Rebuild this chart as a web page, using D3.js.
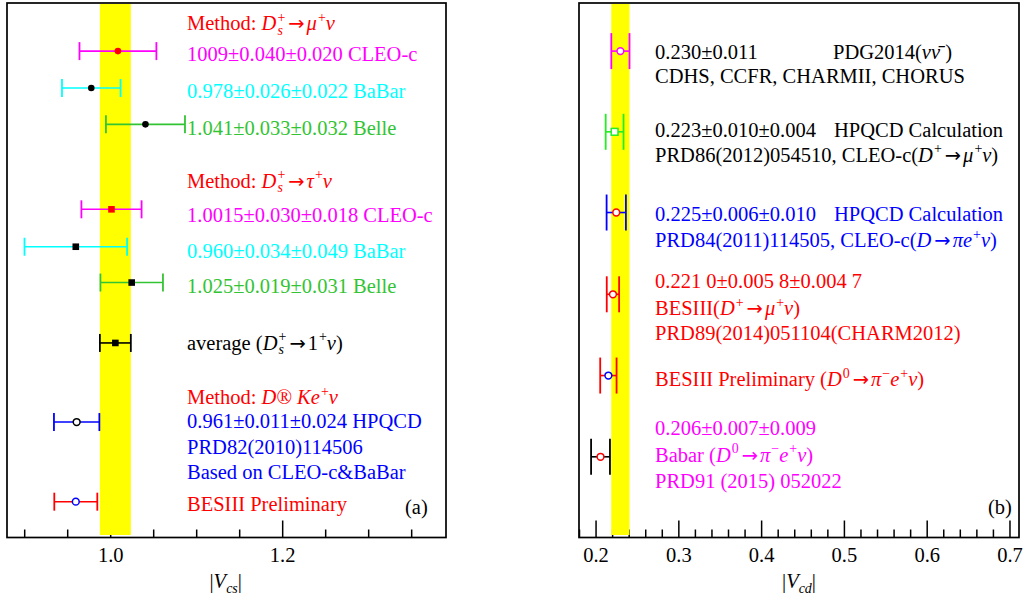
<!DOCTYPE html>
<html>
<head>
<meta charset="utf-8">
<script src="https://cdn.jsdelivr.net/npm/d3@7"></script>
<style>
  body { margin: 0; background: #fff; }
  svg { display: block; font-family: "Liberation Serif", "Times New Roman", serif; }
  text { white-space: pre; }
</style>
</head>
<body>
<svg id="chart" width="1029" height="598"></svg>
<script>
// ---------- Panel (a): |Vcs| ----------
const vcsNames  = ["CLEO-c (μν)", "BaBar (μν)", "Belle (μν)", "CLEO-c (τν)", "BaBar (τν)", "Belle (τν)", "average", "HPQCD (Keν)", "BESIII Preliminary"];
const vcsValues = [1.009, 0.978, 1.041, 1.0015, 0.960, 1.025, 1.006, 0.961, 0.960];
const vcsStat   = [0.040, 0.026, 0.033, 0.030, 0.034, 0.019, 0.018, 0.011, 0.025];
const vcsSyst   = [0.020, 0.022, 0.032, 0.018, 0.049, 0.031, 0.000, 0.024, 0.000];
const vcsAverageIndex = 6;
const vcsMajorTicks = [1.0, 1.2];
const vcsTickLabels = ["1.0", "1.2"];
const vcsMinorTicks = [0.90, 0.95, 1.05, 1.10, 1.15, 1.25, 1.30, 1.35];

// ---------- Panel (b): |Vcd| ----------
const vcdNames  = ["PDG2014", "HPQCD (D+→μν)", "HPQCD (D→πeν)", "BESIII (D+→μν)", "BESIII Preliminary (D0→πeν)", "Babar (D0→πeν)"];
const vcdValues = [0.230, 0.223, 0.225, 0.2210, 0.2155, 0.206];
const vcdStat   = [0.011, 0.010, 0.006, 0.0058, 0.0027, 0.007];
const vcdSyst   = [0.000, 0.004, 0.010, 0.0047, 0.0095, 0.009];
const vcdBandIndex = 0;
const vcdMajorTicks = [0.2, 0.3, 0.4, 0.5, 0.6, 0.7];
const vcdTickLabels = ["0.2", "0.3", "0.4", "0.5", "0.6", "0.7"];
const vcdMinorTicks = [0.18, 0.22, 0.24, 0.26, 0.28, 0.32, 0.34, 0.36, 0.38, 0.42, 0.44, 0.46, 0.48,
                       0.52, 0.54, 0.56, 0.58, 0.62, 0.64, 0.66, 0.68];

// ---------- styles ----------
const RED = "#ff0000", MAG = "#ff00ff", CYAN = "#00ffff", GRN = "#33c433",
      BLUE = "#0000ff", BLK = "#000000", LGRN = "#22ee22", YEL = "#ffff00";
const vcsBarColor  = [MAG, CYAN, GRN, MAG, CYAN, GRN, BLK, BLUE, RED];
const vcsMarkColor = [RED, BLK, BLK, RED, BLK, BLK, BLK, BLK, BLUE];
const vcsMarkShape = ["dot", "dot", "dot", "square", "square", "square", "square", "ring", "ring"];
const vcdBarColor  = [MAG, LGRN, BLUE, RED, RED, BLK];
const vcdMarkColor = [MAG, LGRN, RED, RED, BLUE, RED];
const vcdMarkShape = ["ring", "box", "ring", "ring", "ring", "ring"];

// vertical slots, in frame units (0 = bottom, 100 = top)
const vcsRowPos = [91, 84.1, 77.3, 61.4, 54.4, 47.7, 36.4, 21.6, 6.7];
const vcdRowPos = [91, 75.9, 60.8, 45.5, 30.3, 15.1];

const FS = 20.5;
const svg = d3.select("#chart");

const panelA = { left: 7, right: 446, top: 3, bottom: 537.5, domain: [0.88, 1.3905], cap: 9 };
const panelB = { left: 579, right: 1019, top: 3, bottom: 537.5, domain: [0.18, 0.7115], cap: 18 };

function makeScales(p) {
  p.x = d3.scaleLinear().domain(p.domain).range([p.left, p.right]);
  p.y = d3.scaleLinear().domain([0, 100]).range([p.bottom, p.top]);
}
makeScales(panelA);
makeScales(panelB);

// ---------- rich text helper (italics, super/subscripts, stacked scripts) ----------
const I = s => ({ i: s });
const SUP = s => ({ sup: s });
const SUB = s => ({ low: s });
const SS = (sup, sub) => ({ sup, sub });
const ARR = { arrow: true };

function rich(sel, x, y, parts, color, anchor) {
  const t = sel.append("text")
    .attr("x", x).attr("y", y)
    .attr("fill", color)
    .style("font-size", FS + "px");
  if (anchor) t.attr("text-anchor", anchor);
  let cur = 0, pendingDx = 0;
  const put = (str, o = {}) => {
    const target = o.dy || 0;
    const s = t.append("tspan").text(str);
    if (target - cur !== 0) s.attr("dy", target - cur);
    cur = target;
    const dx = (o.dx || 0) + pendingDx;
    pendingDx = 0;
    if (dx) s.attr("dx", dx);
    if (o.it) s.attr("font-style", "italic");
    if (o.size) s.style("font-size", o.size + "px");
    if (o.family) s.attr("font-family", o.family);
    return s;
  };
  const small = FS * 0.68;
  parts.forEach(p => {
    if (typeof p === "string") put(p);
    else if (p.arrow) { put("→", { size: FS * 0.95, family: "DejaVu Sans", dx: 3 }); pendingDx = 2; }
    else if (p.i !== undefined) put(p.i, { it: true });
    else if (p.low !== undefined) put(p.low, { dy: 0.22 * FS, size: small, it: true });
    else if (p.sub !== undefined) {
      const a = put(p.sup, { dy: -0.42 * FS, size: small, dx: 1 });
      const wa = a.node().getComputedTextLength();
      const b = put(p.sub, { dy: 0.22 * FS, size: small, it: true, dx: -wa });
      const wb = b.node().getComputedTextLength();
      pendingDx = Math.max(0, wa - wb);
    } else if (p.sup !== undefined) {
      put(p.sup, { dy: -0.42 * FS, size: small, dx: 1 });
    }
  });
  return t;
}

// ---------- axes, band, frame ----------
function drawAxes(p, major, labels, minor) {
  const g = svg.append("g");
  g.append("g").attr("transform", `translate(0,${p.bottom})`)
    .call(d3.axisBottom(p.x).tickValues(minor).tickSizeInner(-8).tickSizeOuter(0).tickFormat(""));
  g.append("g").attr("transform", `translate(0,${p.bottom})`)
    .call(d3.axisBottom(p.x).tickValues(major).tickSizeInner(-17).tickSizeOuter(0).tickPadding(10)
      .tickFormat((d, i) => labels[i]));
  g.selectAll(".domain").remove();
  g.selectAll(".tick line").attr("stroke", BLK).attr("stroke-width", 1.5);
  g.selectAll("g").attr("font-family", null).attr("font-size", null);
  g.selectAll(".tick text").attr("fill", BLK).style("font-size", FS + "px");
}

function drawBand(p, lo, hi) {
  svg.append("rect")
    .attr("x", p.x(lo)).attr("width", p.x(hi) - p.x(lo))
    .attr("y", p.top + 1).attr("height", p.bottom - p.top - 3.5)
    .attr("fill", YEL);
}

function drawFrame(p) {
  svg.append("rect")
    .attr("x", p.left).attr("y", p.top)
    .attr("width", p.right - p.left).attr("height", p.bottom - p.top)
    .attr("fill", "none").attr("stroke", BLK).attr("stroke-width", 1.7);
}

function drawPoints(p, values, stat, syst, rowPos, barColor, markColor, shape) {
  const g = svg.append("g");
  values.forEach((v, i) => {
    const err = Math.sqrt(stat[i] * stat[i] + syst[i] * syst[i]);
    const x0 = p.x(v - err), x1 = p.x(v + err), cx = p.x(v), cy = p.y(rowPos[i]);
    const c = barColor[i];
    g.append("line").attr("x1", x0).attr("x2", x1).attr("y1", cy).attr("y2", cy)
      .attr("stroke", c).attr("stroke-width", 1.6);
    [x0, x1].forEach(xx => g.append("line").attr("x1", xx).attr("x2", xx)
      .attr("y1", cy - p.cap).attr("y2", cy + p.cap)
      .attr("stroke", c).attr("stroke-width", 1.8));
    const m = markColor[i];
    if (shape[i] === "dot") {
      g.append("circle").attr("cx", cx).attr("cy", cy).attr("r", 3.3).attr("fill", m);
    } else if (shape[i] === "square") {
      g.append("rect").attr("x", cx - 3.3).attr("y", cy - 3.3).attr("width", 6.6).attr("height", 6.6).attr("fill", m);
    } else if (shape[i] === "ring") {
      g.append("circle").attr("cx", cx).attr("cy", cy).attr("r", 3.4)
        .attr("fill", "#fff").attr("stroke", m).attr("stroke-width", 1.5);
    } else if (shape[i] === "box") {
      g.append("rect").attr("x", cx - 3.4).attr("y", cy - 3.4).attr("width", 6.8).attr("height", 6.8)
        .attr("fill", "#fff").attr("stroke", m).attr("stroke-width", 1.5);
    }
  });
}

// panel (a)
drawAxes(panelA, vcsMajorTicks, vcsTickLabels, vcsMinorTicks);
{
  const avg = vcsValues[vcsAverageIndex];
  const e = Math.hypot(vcsStat[vcsAverageIndex], vcsSyst[vcsAverageIndex]);
  drawBand(panelA, avg - e, avg + e);
}
drawFrame(panelA);
drawPoints(panelA, vcsValues, vcsStat, vcsSyst, vcsRowPos, vcsBarColor, vcsMarkColor, vcsMarkShape);

// panel (b)
drawAxes(panelB, vcdMajorTicks, vcdTickLabels, vcdMinorTicks);
{
  const v = vcdValues[vcdBandIndex];
  const e = Math.hypot(vcdStat[vcdBandIndex], vcdSyst[vcdBandIndex]);
  drawBand(panelB, v - e, v + e);
}
drawFrame(panelB);
drawPoints(panelB, vcdValues, vcdStat, vcdSyst, vcdRowPos, vcdBarColor, vcdMarkColor, vcdMarkShape);

// ---------- annotations, panel (a) ----------
const tA = svg.append("g");
const xa = 187;
const ya = u => panelA.y(u);
rich(tA, xa, ya(94.9), ["Method: ", I("D"), SS("+", "s"), ARR, I("μ"), SUP("+"), I("ν")], RED);
rich(tA, xa, ya(89.1), ["1009±0.040±0.020 CLEO-c"], MAG);
rich(tA, xa, ya(82.2), ["0.978±0.026±0.022 BaBar"], CYAN);
rich(tA, xa, ya(75.3), ["1.041±0.033±0.032 Belle"], GRN);
rich(tA, xa, ya(65.4), ["Method: ", I("D"), SS("+", "s"), ARR, I("τ"), SUP("+"), I("ν")], RED);
rich(tA, xa, ya(59.1), ["1.0015±0.030±0.018 CLEO-c"], MAG);
rich(tA, xa, ya(52.2), ["0.960±0.034±0.049 BaBar"], CYAN);
rich(tA, xa, ya(45.8), ["1.025±0.019±0.031 Belle"], GRN);
rich(tA, xa, ya(35.1), ["average (", I("D"), SS("+", "s"), ARR, "1", SUP("+"), I("ν"), ")"], BLK);
rich(tA, xa, ya(24.9), ["Method: ", I("D"), "® ", I("Ke"), SUP("+"), I("ν")], RED);
rich(tA, xa, ya(20.4), ["0.961±0.011±0.024 HPQCD"], BLUE);
rich(tA, xa, ya(15.7), ["PRD82(2010)114506"], BLUE);
rich(tA, xa, ya(11.0), ["Based on CLEO-c&BaBar"], BLUE);
rich(tA, xa, ya(5.0), ["BESIII Preliminary"], RED);
rich(tA, 405, ya(4.4), ["(a)"], BLK);
rich(tA, 225.7, 588, ["|", I("V"), SUB("cs"), "|"], BLK, "middle");

// ---------- annotations, panel (b) ----------
const tB = svg.append("g");
const xb = 655, xb2 = 833;
const yb = u => panelB.y(u);
rich(tB, xb, yb(89.5), ["0.230±0.011"], BLK);
rich(tB, xb2, yb(89.5), ["PDG2014(", I("ν"), I("ν\u0304"), " )"], BLK);
rich(tB, xb, yb(85.0), ["CDHS, CCFR, CHARMII, CHORUS"], BLK);
rich(tB, xb, yb(74.9), ["0.223±0.010±0.004"], BLK);
rich(tB, xb2 + 1, yb(74.9), ["HPQCD Calculation"], BLK);
rich(tB, xb, yb(70.3), ["PRD86(2012)054510, CLEO-c(", I("D"), SUP("+"), ARR, I("μ"), SUP("+"), I("ν"), ")"], BLK);
rich(tB, xb, yb(59.3), ["0.225±0.006±0.010"], BLUE);
rich(tB, xb2 + 1, yb(59.3), ["HPQCD Calculation"], BLUE);
rich(tB, xb, yb(54.3), ["PRD84(2011)114505, CLEO-c(", I("D"), ARR, I("πe"), SUP("+"), I("ν"), ")"], BLUE);
rich(tB, xb, yb(46.6), ["0.221 0±0.005 8±0.004 7"], RED);
rich(tB, xb, yb(41.6), ["BESIII(", I("D"), SUP("+"), ARR, I("μ"), SUP("+"), I("ν"), ")"], RED);
rich(tB, xb, yb(37.0), ["PRD89(2014)051104(CHARM2012)"], RED);
rich(tB, xb, yb(28.3), ["BESIII Preliminary (", I("D"), SUP("0"), ARR, I("π"), SUP("−"), I("e"), SUP("+"), I("ν"), ")"], RED);
rich(tB, xb, yb(19.2), ["0.206±0.007±0.009"], MAG);
rich(tB, xb, yb(14.2), ["Babar (", I("D"), SUP("0"), ARR, I("π"), SUP("−"), I("e"), SUP("+"), I("ν"), ")"], MAG);
rich(tB, xb, yb(9.3), ["PRD91 (2015) 052022"], MAG);
rich(tB, 988, yb(4.4), ["(b)"], BLK);
rich(tB, 799, 588, ["|", I("V"), SUB("cd"), "|"], BLK, "middle");
</script>
</body>
</html>
